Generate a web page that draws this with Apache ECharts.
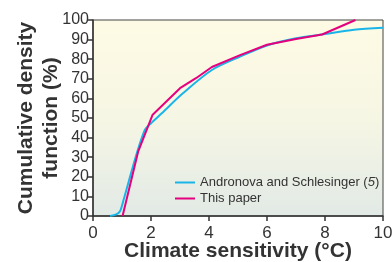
<!DOCTYPE html>
<html>
<head>
<meta charset="utf-8">
<script src="https://cdn.jsdelivr.net/npm/echarts@6/dist/echarts.min.js"></script>
<style>
  html, body { margin: 0; padding: 0; background: #fff; }
  #chart { width: 392px; height: 262px; }
</style>
</head>
<body>
<div id="chart"></div>
<script>
// climate sensitivity (°C) / cumulative density (%)
const andronovaX = [0.59, 0.8, 0.93, 1.05, 1.22, 1.51, 1.79, 1.94, 2.37, 3.1, 4.1, 5.07, 6.0, 7.0, 8.0, 9.0, 10.0]
const andronovaY = [0, 0.8, 2.4, 8, 17, 32, 44, 46.5, 52.4, 62.6, 74.5, 81.3, 87, 90.7, 92.8, 95, 96]
const paperX = [1.02, 1.56, 2.05, 3.0, 3.55, 4.1, 5.07, 6.0, 7.0, 7.9, 9.05]
const paperY = [0, 33, 51.5, 65.2, 70.3, 76, 82.1, 87.4, 90.3, 92.6, 100]
const seriesNames = ['Andronova and Schlesinger (5)', 'This paper']

const chart = echarts.init(document.getElementById('chart'))

const pairs = (xs, ys) => xs.map((x, i) => [x, ys[i]])

const option = {
    animation: false,
    grid: {
        left: 93,
        right: 9,
        top: 20,
        bottom: 46,
        outerBoundsMode: 'none',
        containLabel: false,
        show: true,
        borderColor: '#444',
        borderWidth: 1,
        backgroundColor: {
            type: 'linear', x: 0, y: 0, x2: 0, y2: 1,
            colorStops: [
                { offset: 0, color: '#fefbe4' },
                { offset: 0.5, color: '#f6f6e4' },
                { offset: 1, color: '#e2eae6' }
            ]
        }
    },
    legend: {
        orient: 'vertical',
        left: 170,
        top: 171,
        itemWidth: 20,
        itemHeight: 2,
        itemGap: 3,
        icon: 'rect',
        data: seriesNames,
        formatter: (name) => name === seriesNames[0]
            ? '{a|Andronova and Schlesinger (}{i|5}{a|)}'
            : '{a|' + name + '}',
        textStyle: {
            color: '#333',
            fontSize: 13,
            fontFamily: 'Liberation Sans',
            rich: {
                a: { fontSize: 13, color: '#333', fontFamily: 'Liberation Sans' },
                i: { fontSize: 13, color: '#333', fontStyle: 'italic', fontFamily: 'Liberation Sans' }
            }
        }
    },
    xAxis: {
        type: 'value',
        min: 0,
        max: 10,
        interval: 2,
        name: 'Climate sensitivity (°C)',
        nameLocation: 'middle',
        nameMoveOverlap: false,
        nameGap: 25,
        nameTextStyle: { fontSize: 21, fontWeight: 'bold', color: '#333', fontFamily: 'Liberation Sans' },
        axisLine: { lineStyle: { color: '#333', width: 1.5 } },
        axisTick: { length: 5, lineStyle: { color: '#333', width: 1.5 } },
        axisLabel: { fontSize: 17, color: '#333', margin: 9, fontFamily: 'Liberation Sans' },
        splitLine: { show: false }
    },
    yAxis: {
        type: 'value',
        min: 0,
        max: 100,
        interval: 10,
        name: 'Cumulative density\nfunction (%)',
        nameLocation: 'middle',
        nameMoveOverlap: false,
        nameGap: 29,
        nameRotate: 90,
        nameTextStyle: { fontSize: 21, fontWeight: 'bold', color: '#333', lineHeight: 25, fontFamily: 'Liberation Sans' },
        axisLine: { show: true, lineStyle: { color: '#333', width: 1.5 } },
        axisTick: { show: true, length: 5, lineStyle: { color: '#333', width: 1.5 } },
        axisLabel: { fontSize: 16, color: '#333', margin: 4, fontFamily: 'Liberation Sans' },
        splitLine: { show: false }
    },
    series: [
        {
            name: seriesNames[0],
            type: 'line',
            data: pairs(andronovaX, andronovaY),
            smooth: 0.3,
            showSymbol: false,
            lineStyle: { color: '#19b5e8', width: 2 },
            itemStyle: { color: '#19b5e8' }
        },
        {
            name: seriesNames[1],
            type: 'line',
            data: pairs(paperX, paperY),
            showSymbol: false,
            lineStyle: { color: '#e5007d', width: 2 },
            itemStyle: { color: '#e5007d' }
        }
    ]
}

chart.setOption(option)
</script>
</body>
</html>
